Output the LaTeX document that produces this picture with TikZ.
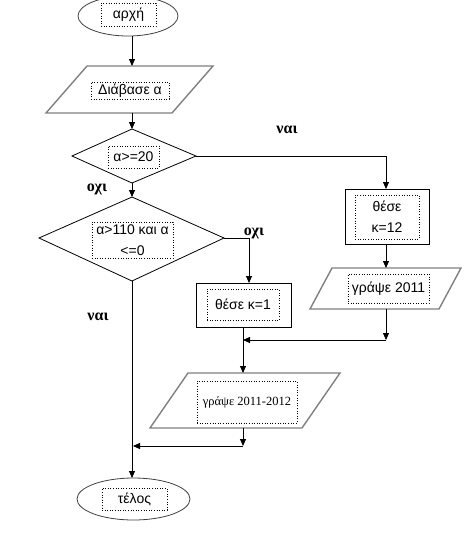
\documentclass[tikz,border=0pt]{standalone}
\usepackage{fontspec}
\setmainfont{Liberation Sans}
\newfontfamily\serifgr{Liberation Serif}
\usetikzlibrary{arrows.meta}
\begin{document}
\begin{tikzpicture}[x=1pt,y=-1pt,
 txt/.style={draw,dotted,line width=0.6pt,inner sep=0pt,align=center,font=\fontsize{14}{21}\selectfont},
 arr/.style={-{Triangle[length=7pt,width=6pt]},line width=0.8pt},
 ln/.style={line width=0.8pt},
 shp/.style={draw,line width=0.8pt},
 ell/.style={draw=black!75,line width=0.8pt},
 par/.style={draw=gray,line width=1.4pt},
 lbl/.style={font=\serifgr\bfseries\fontsize{16}{18}\selectfont}]
\useasboundingbox (0,0) rectangle (466,550);
% shapes
\draw[ell] (128,16) ellipse [x radius=50, y radius=20];
\draw[par] (87,66) -- (213,66) -- (172,113) -- (46,113) -- cycle;
\draw[shp] (72,156) -- (132,129) -- (196,156) -- (132,183) -- cycle;
\draw[shp] (39,238) -- (132,197) -- (224,238) -- (132,281) -- cycle;
\draw[shp] (345,189) rectangle (429,244);
\draw[par] (332,268) -- (461,268) -- (439,309) -- (310,309) -- cycle;
\draw[shp] (196,283) rectangle (291,327);
\draw[par] (188,373) -- (340,373) -- (302,428) -- (150,428) -- cycle;
\draw[ell] (133.5,499) ellipse [x radius=56.5, y radius=21];
% text boxes
\node[txt,minimum width=55,minimum height=23] (t1) at (128.5,14.5) {αρχή};
\node[txt,minimum width=78,minimum height=17] (t2) at (130,90.5) {Διάβασε α};
\node[txt,minimum width=51,minimum height=22] (t3) at (133.5,157) {α>=20};
\node[txt,minimum width=81,minimum height=36] (t4) at (132.5,240) {α>110 και α\\<=0};
\node[txt,minimum width=64,minimum height=44] (t5) at (387,217) {θέσε\\κ=12};
\node[txt,minimum width=81,minimum height=29] (t6) at (388.5,288.5) {γράψε 2011};
\node[txt,minimum width=72,minimum height=31] (t7) at (243,304.5) {θέσε κ=1};
\node[txt,minimum width=100,minimum height=42,font=\serifgr\fontsize{12.5}{14}\selectfont] (t8) at (247,402) {γράψε 2011-2012};
\node[txt,minimum width=65,minimum height=22] (t9) at (134.5,499) {τέλος};
% connection points
\coordinate (s1) at (132,36);
\coordinate (p1t) at (132,66);
\coordinate (p1b) at (132,113);
\coordinate (d1t) at (132,129);
\coordinate (d1r) at (196,156);
\coordinate (d1b) at (132,183);
\coordinate (c1) at (386,156);
\coordinate (r1t) at (386,189);
\coordinate (r1b) at (386,244);
\coordinate (p2t) at (386,268);
\coordinate (p2b) at (386,309);
\coordinate (j1) at (386,340);
\coordinate (j2) at (243,340);
\coordinate (d2t) at (132,197);
\coordinate (d2r) at (224,238);
\coordinate (d2b) at (132,281);
\coordinate (c2) at (249,238);
\coordinate (r2t) at (249,283);
\coordinate (r2b) at (243,327);
\coordinate (p3t) at (243,373);
\coordinate (p3b) at (243,428);
\coordinate (j3) at (243,446);
\coordinate (j4) at (133,446);
\coordinate (e2t) at (132,478);
% connectors
\draw[arr] (s1) -- (p1t);
\draw[arr] (p1b) -- (d1t);
\draw[arr] (d1r) -- (c1) -- (r1t);
\draw[arr] (d1b) -- (d2t);
\draw[arr] (d2r) -- (c2) -- (r2t);
\draw[arr] (r1b) -- (p2t);
\draw[arr] (p2b) -- (j1);
\draw[arr] (j1) -- (j2);
\draw[arr] (r2b) -- (p3t);
\draw[arr] (p3b) -- (j3);
\draw[arr] (j3) -- (j4);
\draw[arr] (d2b) -- (e2t);
% labels
\node[lbl] (l1) at (287,130) {ναι};
\node[lbl] (l2) at (97,189) {οχι};
\node[lbl] (l3) at (254,233) {οχι};
\node[lbl] (l4) at (98,317) {ναι};
\end{tikzpicture}
\end{document}
